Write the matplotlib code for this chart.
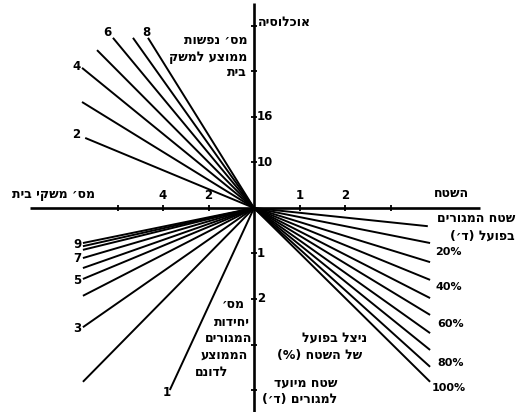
import matplotlib
matplotlib.use('Agg')
import matplotlib.pyplot as plt

# ---------------- data (chart units: 1 unit = one tick step) ----------------
# upper-left quadrant: average persons per household
persons = [2, 3, 4, 5, 6, 7, 8]
persons_end_x = [-3.71, -3.78, -3.78, -3.45, -3.10, -2.66, -2.33]
persons_end_y = [1.54, 2.33, 3.08, 3.47, 3.74, 3.74, 3.74]
persons_shown = ['2', '4', '6', '8']

# lower-left quadrant: average dwelling units per dunam
units = [10, 9, 8, 7, 6, 5, 4, 3, 2, 1]
units_end_x = [-3.76, -3.76, -3.76, -3.76, -3.76, -3.76, -3.76, -3.76, -3.76, -1.85]
units_end_y = [-0.77, -0.84, -0.92, -1.10, -1.32, -1.56, -1.93, -2.62, -3.82, -4.00]
units_shown = ['9', '7', '5', '3', '1']

# lower-right quadrant: actual utilisation of the area (%)
utilisation = [10, 20, 30, 40, 50, 60, 70, 80, 90, 100]
util_end_x = [3.82, 3.87, 3.87, 3.87, 3.87, 3.87, 3.87, 3.87, 3.87, 3.87]
util_end_y = [-0.40, -0.77, -1.19, -1.58, -1.98, -2.35, -2.75, -3.12, -3.49, -3.82]
util_shown = ['20%', '40%', '60%', '80%', '100%']

# axis ticks
ticks_left = [-1, -2, -3]
ticks_left_labels = ['2', '4', '']
ticks_right = [1, 2, 3]
ticks_right_labels = ['1', '2', '']
ticks_up = [1, 2, 3, 4]
ticks_up_labels = ['10', '16', '', '']
ticks_down = [-1, -2, -3, -4]
ticks_down_labels = ['1', '2', '', '']

# Hebrew texts (logical order)
t_population = 'אוכלוסיה'
t_area = 'השטח'
t_households = 'מס׳ משקי בית'
t_persons = ['מס׳ נפשות', 'ממוצע למשק', 'בית']
t_units = ['מס׳', 'יחידות', 'המגורים', 'הממוצע', 'לדונם']
t_actual = ['שטח המגורים', 'בפועל (ד׳)']
t_util = ['ניצל בפועל', 'של השטח (%)']
t_designated = ['שטח מיועד', 'למגורים (ד׳)']


def vis(s):
    """Convert logical RTL string to visual order for LTR rendering."""
    r = s[::-1]
    return r.translate(str.maketrans({'(': ')', ')': '('}))


# ---------------- layout ----------------
W, H = 516, 412
PX = 45.5          # pixels per chart unit
OX, OY = 254, 208  # origin in pixels


def p2d(x, y):
    return (x - OX) / PX, (OY - y) / PX


fig = plt.figure(figsize=(W / 100, H / 100), dpi=100)
ax = fig.add_axes([0, 0, 1, 1])
ax.set_xlim(-OX / PX, (W - OX) / PX)
ax.set_ylim(-(H - OY) / PX, OY / PX)
ax.axis('off')

FONT = 'DejaVu Sans'
lw_line = 1.4
lw_axis = 1.9

# axes
x0, _ = p2d(30, 0)
x1, _ = p2d(480, 0)
_, y0 = p2d(0, 3)
_, y1 = p2d(0, 412)
ax.plot([x0, x1], [0, 0], color='black', lw=lw_axis, solid_capstyle='butt')
ax.plot([0, 0], [y1, y0], color='black', lw=lw_axis, solid_capstyle='butt')

# ticks
ax.plot(ticks_left + ticks_right, [0] * 6, ls='none', marker='|', ms=5, mew=1.3, color='black')
ax.plot([0] * 8, ticks_up + ticks_down, ls='none', marker='_', ms=5, mew=1.3, color='black')

tick_kw = dict(fontsize=8.5, fontweight='bold', family=FONT, color='black')
for v, lab in zip(ticks_left, ticks_left_labels):
    if lab:
        ax.text(v, p2d(0, 196)[1], lab, ha='center', va='center', **tick_kw)
for v, lab in zip(ticks_right, ticks_right_labels):
    if lab:
        ax.text(v, p2d(0, 196)[1], lab, ha='center', va='center', **tick_kw)
for v, lab in zip(ticks_up, ticks_up_labels):
    if lab:
        ax.text(p2d(257, 0)[0], v, lab, ha='left', va='center', **tick_kw)
for v, lab in zip(ticks_down, ticks_down_labels):
    if lab:
        ax.text(p2d(257, 0)[0], v, lab, ha='left', va='center', **tick_kw)

# fan lines
for ex, ey in zip(persons_end_x, persons_end_y):
    ax.plot([0, ex], [0, ey], color='black', lw=lw_line, solid_capstyle='butt')
for ex, ey in zip(units_end_x, units_end_y):
    ax.plot([0, ex], [0, ey], color='black', lw=lw_line, solid_capstyle='butt')
for ex, ey in zip(util_end_x, util_end_y):
    ax.plot([0, ex], [0, ey], color='black', lw=lw_line, solid_capstyle='butt')

# fan labels
num_kw = dict(fontsize=8.5, fontweight='bold', family=FONT, color='black',
              ha='center', va='center')
for lab, (px, py) in zip(persons_shown, [(76, 135), (77, 67), (107, 32), (146, 32)]):
    ax.text(*p2d(px, py), lab, **num_kw)
for lab, (px, py) in zip(units_shown, [(77, 245), (77, 259), (77, 280), (77, 328), (167, 392)]):
    ax.text(*p2d(px, py), lab, **num_kw)
for lab, (px, py) in zip(util_shown, [(435, 252), (436, 287), (437, 324), (437, 363), (432, 388)]):
    ax.text(*p2d(px, py), lab, fontsize=8, fontweight='bold', family=FONT,
            ha='left', va='center', color='black')

# Hebrew titles
heb_kw = dict(fontsize=9, fontweight='bold', family=FONT, color='black')
ax.text(*p2d(258, 23), vis(t_population), ha='left', va='center', **heb_kw)
ax.text(*p2d(434, 194), vis(t_area), ha='left', va='center', **heb_kw)
ax.text(*p2d(53, 195), vis(t_households), ha='center', va='center', **heb_kw)
for s, py in zip(t_persons, [40, 57, 73]):
    ax.text(*p2d(247, py), vis(s), ha='right', va='center', **heb_kw)
for s, (px, py) in zip(t_units, [(233, 305), (232, 322), (229, 338), (224, 355), (212, 372)]):
    ax.text(*p2d(px, py), vis(s), ha='center', va='center', **heb_kw)
for s, py in zip(t_actual, [218, 236]):
    ax.text(*p2d(515, py), vis(s), ha='right', va='center', **heb_kw)
for s, (px, py) in zip(t_util, [(367, 338), (362, 355)]):
    ax.text(*p2d(px, py), vis(s), ha='right', va='center', **heb_kw)
for s, py in zip(t_designated, [383, 400]):
    ax.text(*p2d(337, py), vis(s), ha='right', va='center', **heb_kw)

fig.savefig('out.png', dpi=100, facecolor='white')
